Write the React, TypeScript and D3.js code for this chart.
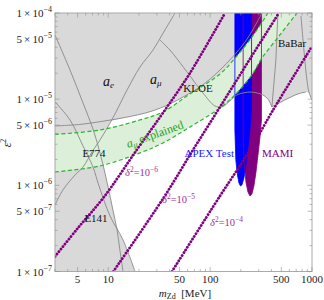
import React from 'react';
import * as d3 from 'd3';

type P = [number, number];

const Y_TICKS = [1e-7, 5e-7, 1e-6, 5e-6, 1e-5, 5e-5, 1e-4];
const X_TICKS = [5, 10, 50, 100, 500, 1000];

// lower envelope of the gray (excluded) union, [m_Zd MeV, eps^2]
const GRAY_EDGE: P[] = [
  [3, 1e-7], [18.3, 1e-7], [13.95, 2.33e-7], [12.1, 3.2e-7], [11.1, 5.18e-7],
  [10.2, 8.38e-7], [9.28, 1.39e-6], [8.29, 2.38e-6], [7.93, 2.94e-6], [8.29, 3.36e-6],
  [10.6, 5.59e-6], [14.6, 6.13e-6], [25.7, 7.16e-6], [40.3, 8.8e-6], [56.6, 1.09e-5],
  [72.6, 1.28e-5], [89, 1.12e-5], [111.5, 8.34e-6], [131, 8.12e-6], [156, 9.53e-6],
  [183, 1.12e-5], [246, 1.21e-5], [288, 1.18e-5], [330, 1.12e-5], [369, 1.005e-5],
  [404, 8.12e-6], [542, 9.79e-6], [727, 1.15e-5], [871, 1.21e-5], [933, 1.18e-5],
  [1000, 9.79e-6], [1000, 1e-4], [3, 1e-4],
];

// boundary curves
const AE_LINE: P[] = [
  [3, 5.92e-7], [3.59, 8.84e-7], [4.72, 1.32e-6], [5.65, 1.63e-6], [6.92, 2.44e-6],
  [8.29, 3.36e-6], [11.1, 6.05e-6], [15.3, 1.28e-5], [20.5, 2.36e-5], [27.5, 3.72e-5],
  [33.7, 5.56e-5], [45.2, 1e-4],
];
const AMU_LINE: P[] = [
  [3, 4.89e-6], [5.28, 5.09e-6], [8.29, 5.48e-6], [14.6, 6.13e-6], [25.7, 7.16e-6],
  [40.3, 8.8e-6], [56.6, 1.09e-5], [79.4, 1.385e-5], [125, 2.18e-5], [220, 4.61e-5],
  [323, 1e-4],
];
const E774_LINE: P[] = [
  [3, 5.56e-5], [4.21, 2.18e-5], [5.65, 9.04e-6], [7.13, 4.39e-6], [8.29, 2.38e-6],
  [9.28, 1.39e-6], [10.2, 8.38e-7], [11.1, 5.18e-7], [12.2, 3.04e-7], [13.0, 1.78e-7],
  [13.95, 1e-7],
];
const E141_LINE: P[] = [
  [3, 9.28e-6], [4.21, 5.74e-6], [5.65, 2.86e-6], [7.08, 1.63e-6], [8.11, 9.84e-7],
  [10.4, 4.42e-7], [13.95, 2.33e-7], [18.3, 1e-7],
];
const KLOE_LINE: P[] = [
  [32.2, 4.86e-5], [40.3, 3.72e-5], [48.3, 2.85e-5], [63.4, 1.86e-5], [85, 1.18e-5],
  [111.5, 8.34e-6], [131, 8.12e-6], [156, 9.53e-6], [183, 1.12e-5], [246, 1.21e-5],
  [288, 1.18e-5], [330, 1.12e-5], [369, 1.005e-5], [404, 8.12e-6],
];
const BABAR_LEFT: P[] = [[463, 1e-4], [442, 2.85e-5], [404, 8.12e-6]];
const BABAR_BOTTOM: P[] = [[404, 8.12e-6], [542, 9.79e-6], [727, 1.15e-5], [871, 1.21e-5]];
const BABAR_RIGHT: P[] = [[779, 9.23e-5], [833, 3.72e-5], [892, 1.67e-5], [933, 1.21e-5], [1000, 9.79e-6]];

// a_mu explained band
const AMU_UP: P[] = [
  [3, 3.9e-6], [8.29, 4.39e-6], [20.5, 5.74e-6], [34.4, 7.1e-6], [63.4, 1.15e-5],
  [125, 1.96e-5], [183, 3.17e-5], [275, 5.86e-5], [369, 1e-4],
];
const AMU_LO: P[] = [
  [3, 1.43e-6], [8.29, 1.68e-6], [20.5, 2.38e-6], [34.4, 3.1e-6], [63.4, 4.76e-6],
  [125, 7.91e-6], [183, 1.18e-5], [257, 1.91e-5], [323, 3.01e-5], [484, 5.56e-5],
  [711, 1e-4],
];

// APEX test run and MAMI regions
const APEX: P[] = [
  [175, 1e-4], [175, 4.39e-6], [178.8, 1.97e-6], [185.4, 1.32e-6], [191.8, 1.066e-6],
  [198.4, 9.84e-7], [205, 1.01e-6], [214.7, 1.22e-6], [224.6, 1.725e-6], [235, 2.72e-6],
  [246, 4.39e-6], [255, 7.49e-6], [255, 1e-4],
];
const MAMI: P[] = [
  [211, 1e-4], [211, 3.36e-6], [217, 1.725e-6], [224.6, 1.095e-6], [235, 8.38e-7],
  [246, 7.53e-7], [257, 7.95e-7], [269, 9.84e-7], [282, 1.43e-6], [295, 2.25e-6],
  [308, 3.55e-6], [319, 5.74e-6], [319, 1e-4],
];

// delta^2 contours
const DELTA_6: P[] = [[3, 1.49e-7], [5.04, 3.2e-7], [9.08, 7.33e-7], [19.0, 2.57e-6], [34.4, 6.92e-6], [63.4, 2.01e-5], [140, 1e-4]];
const DELTA_5: P[] = [[11.2, 1e-7], [34.7, 7.09e-7], [67.8, 2.57e-6], [125, 8.12e-6], [246, 2.93e-5], [473, 1e-4]];
const DELTA_4: P[] = [[42.2, 1e-7], [125, 7.53e-7], [246, 2.57e-6], [404, 7.1e-6], [1000, 4.1e-5]];

const SERIF = '"Liberation Serif", "DejaVu Serif", serif';

function Delta({ x, y, exp }: { x: number; y: number; exp: number }) {
  return (
    <text x={x} y={y}>
      <tspan fontStyle="italic">δ</tspan>
      <tspan fontSize={7.5} dy={-4}>2</tspan>
      <tspan dy={4}>=10</tspan>
      <tspan fontSize={7.5} dy={-4}>{'\u2212' + exp}</tspan>
    </text>
  );
}

export default function App() {
  const left = 55, right = 312, top = 13, bottom = 271.5;
  const x = d3.scaleLog().domain([3, 1000]).range([left, right]);
  const y = d3.scaleLog().domain([1e-7, 1e-4]).range([bottom, top]);

  const straight = d3.line<P>().x(d => x(d[0])).y(d => y(d[1]));
  const smooth = d3.line<P>().x(d => x(d[0])).y(d => y(d[1])).curve(d3.curveCatmullRom.alpha(0.5));

  const band = [...AMU_UP, ...AMU_LO.slice().reverse()];

  const xMinor: number[] = [];
  for (let k = 0; k <= 3; k++) for (let d = 1; d <= 9; d++) {
    const v = d * Math.pow(10, k);
    if (v >= 3 && v <= 1000 && !X_TICKS.includes(v)) xMinor.push(v);
  }
  const yMinor: number[] = [];
  for (let k = -7; k <= -5; k++) for (let d = 1; d <= 9; d++) {
    const v = d * Math.pow(10, k);
    if (!Y_TICKS.some(t => Math.abs(t - v) / v < 1e-6)) yMinor.push(v);
  }

  const tickColor = '#8f8f8f';
  const grayLine = '#888';
  const dotted = { fill: 'none', stroke: '#800080', strokeWidth: 2.8, strokeDasharray: '0.1 3.1', strokeLinecap: 'round' as const };

  return (
    <div>
      <style>{'body{margin:0}'}</style>
      <svg width={324} height={300} style={{ display: 'block', fontFamily: SERIF }}>
        <defs>
          <clipPath id="plot">
            <rect x={left} y={top} width={right - left} height={bottom - top} />
          </clipPath>
        </defs>
        <rect x={0} y={0} width={324} height={300} fill="#fff" />
        <g clipPath="url(#plot)">
          <path d={straight(GRAY_EDGE) + 'Z'} fill="#d9d9d9" />
          <path d={straight(MAMI) + 'Z'} fill="#800080" />
          <path d={straight(APEX) + 'Z'} fill="#0000ff" />
          <path d={straight(band) + 'Z'} fill="#dcefd8" />
          <path d={straight(MAMI)!} fill="none" stroke="#800080" strokeWidth={0.8} />
          <path d={straight(APEX)!} fill="none" stroke="#0000ff" strokeWidth={0.8} />
          <g fill="none" stroke={grayLine} strokeWidth={0.9}>
            <path d={smooth(AE_LINE)!} />
            <path d={smooth(AMU_LINE)!} />
            <path d={smooth(E774_LINE)!} />
            <path d={smooth(E141_LINE)!} />
            <path d={smooth(KLOE_LINE)!} />
            <path d={straight(BABAR_LEFT)!} />
            <path d={smooth(BABAR_BOTTOM)!} />
            <path d={smooth(BABAR_RIGHT)!} />
          </g>
          <g fill="none" stroke="#2cb52c" strokeWidth={1.2} strokeDasharray="4 2.5">
            <path d={smooth(AMU_UP)!} />
            <path d={smooth(AMU_LO)!} />
          </g>
          <path d={smooth(DELTA_6)!} {...dotted} />
          <path d={smooth(DELTA_5)!} {...dotted} />
          <path d={smooth(DELTA_4)!} {...dotted} />
        </g>

        {/* frame */}
        <rect x={left} y={top} width={right - left} height={bottom - top} fill="none" stroke="#aaa" strokeWidth={1} />
        <g stroke={tickColor} strokeWidth={0.6}>
          {X_TICKS.map(t => (
            <g key={'xt' + t}>
              <line x1={x(t)} x2={x(t)} y1={bottom} y2={bottom - 4.5} />
              <line x1={x(t)} x2={x(t)} y1={top} y2={top + 4.5} />
            </g>
          ))}
          {xMinor.map(t => (
            <g key={'xm' + t}>
              <line x1={x(t)} x2={x(t)} y1={bottom} y2={bottom - 2.5} />
              <line x1={x(t)} x2={x(t)} y1={top} y2={top + 2.5} />
            </g>
          ))}
          {Y_TICKS.map(t => (
            <g key={'yt' + t}>
              <line x1={left} x2={left + 4.5} y1={y(t)} y2={y(t)} />
              <line x1={right} x2={right - 4.5} y1={y(t)} y2={y(t)} />
            </g>
          ))}
          {yMinor.map(t => (
            <g key={'ym' + t}>
              <line x1={left} x2={left + 2.5} y1={y(t)} y2={y(t)} />
              <line x1={right} x2={right - 2.5} y1={y(t)} y2={y(t)} />
            </g>
          ))}
        </g>

        {/* tick labels */}
        <g fontSize={11} fill="#222">
          {Y_TICKS.map(t => {
            const e = Math.floor(Math.log10(t) + 1e-9);
            const m = Math.round(t / Math.pow(10, e));
            return (
              <text key={'yl' + t} x={52} y={y(t) + 4} textAnchor="end">
                {m + '\u2009×\u200910'}
                <tspan fontSize={8} dy={-5}>{'\u2212' + Math.abs(e)}</tspan>
              </text>
            );
          })}
          {X_TICKS.map(t => (
            <text key={'xl' + t} x={x(t)} y={283} textAnchor="middle">{t}</text>
          ))}
        </g>

        {/* axis titles */}
        <text x={185} y={297} textAnchor="middle" fontSize={11} fill="#222">
          <tspan fontStyle="italic">m</tspan>
          <tspan fontSize={8} dy={2}>Zd</tspan>
          <tspan dy={-2}>{'\u2002[MeV]'}</tspan>
        </text>
        <text transform="translate(11,143) rotate(-90)" textAnchor="middle" fontSize={12} fill="#222">
          <tspan fontStyle="italic">ε</tspan>
          <tspan fontSize={8} dy={-5}>2</tspan>
        </text>

        {/* region labels */}
        <g fontSize={11} fill="#111">
          <text x={103} y={86} fontSize={14} fontStyle="italic">a<tspan fontSize={9} dy={2}>e</tspan></text>
          <text x={150} y={84} fontSize={14} fontStyle="italic">a<tspan fontSize={9} dy={2}>μ</tspan></text>
          <text x={198} y={92} textAnchor="middle">KLOE</text>
          <text x={292} y={47} textAnchor="middle">BaBar</text>
          <text x={94} y={157} textAnchor="middle">E774</text>
          <text x={96} y={222} textAnchor="middle">E141</text>
        </g>
        <text transform="translate(128,148) rotate(-19.5)" fontSize={12} fill="#22a022">
          <tspan fontStyle="italic">a</tspan><tspan fontSize={8.5} dy={2} fontStyle="italic">μ</tspan><tspan dy={-2}> explained</tspan>
        </text>
        <text x={234} y={157} textAnchor="end" fontSize={11} fill="#1a1aff">APEX Test</text>
        <text x={262} y={157} fontSize={11} fill="#800080">MAMI</text>
        <g fontSize={10.5} fill="#a030a0">
          <Delta x={125} y={176} exp={6} />
          <Delta x={162} y={203} exp={5} />
          <Delta x={210} y={226} exp={4} />
        </g>
      </svg>
    </div>
  );
}
